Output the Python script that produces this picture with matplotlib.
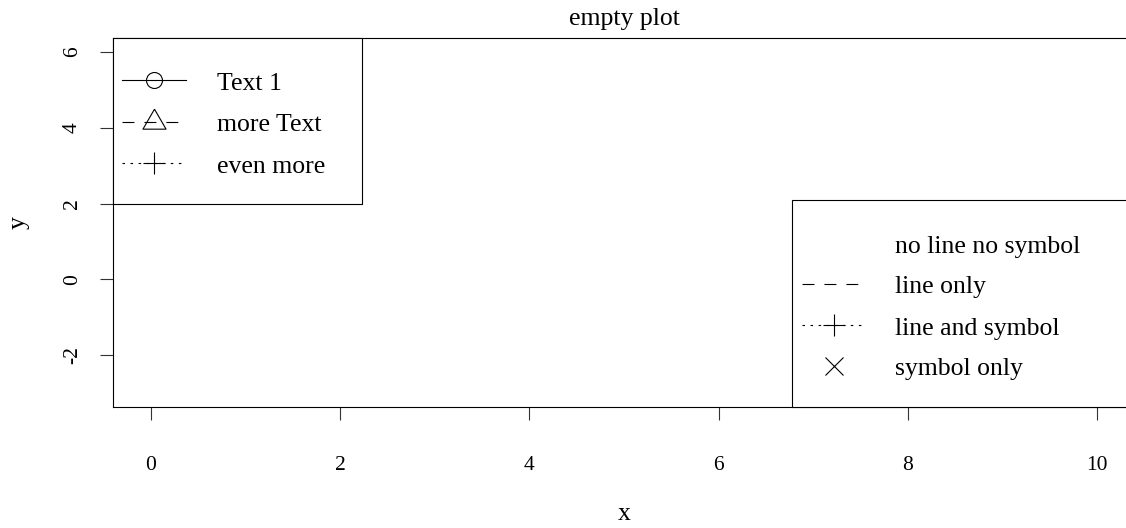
import matplotlib
matplotlib.use("Agg")
import matplotlib.pyplot as plt
from matplotlib.lines import Line2D
from matplotlib.patches import Rectangle

plt.rcParams['font.family'] = ['Liberation Serif', 'DejaVu Serif']
plt.rcParams['lines.scale_dashes'] = False

# ---- data / text ----
title = "empty plot"
x_label = "x"
y_label = "y"
x_lim = (0, 10)
y_lim = (-3, 6)
x_ticks = [0, 2, 4, 6, 8, 10]
y_ticks = [-2, 0, 2, 4, 6]

legend1_labels = ["Text 1", "more Text", "even more"]
legend1_markers = ["o", "tri", "+"]
legend1_styles = ["solid", "dashed", "dotted"]

legend2_labels = ["no line no symbol", "line only", "line and symbol", "symbol only"]
legend2_markers = ["None", "None", "+", "x"]
legend2_styles = ["None", "dashed", "dotted", "None"]

W, H = 1126, 528
fig = plt.figure(figsize=(W / 100, H / 100), dpi=100)
ax_left, ax_right, ax_top, ax_bottom = 113, 1134.8, 38, 407
axw = ax_right - ax_left
axh = ax_bottom - ax_top
ax = fig.add_axes([ax_left / W, 1 - ax_bottom / H, axw / W, axh / H])

# R style 4% extension
dx = (x_lim[1] - x_lim[0]) * 0.04
dy = (y_lim[1] - y_lim[0]) * 0.04
ax.set_xlim(x_lim[0] - dx, x_lim[1] + dx)
ax.set_ylim(y_lim[0] - dy, y_lim[1] + dy)
ax.set_xticks(x_ticks)
ax.set_yticks(y_ticks)
ax.set_xticklabels([str(v) for v in x_ticks])
ax.set_yticklabels([str(v) for v in y_ticks])

for s in ax.spines.values():
    s.set_linewidth(0.8)
    s.set_color("black")
ax.spines['right'].set_visible(False)

ax.tick_params(axis='both', direction='out', length=9.4, width=0.8,
               color='#333333', labelsize=15.5)
ax.tick_params(axis='x', pad=26)
ax.tick_params(axis='y', pad=13)
for lab in ax.get_yticklabels():
    lab.set_rotation(90)
    lab.set_va('center')

ax.set_xlabel(x_label, fontsize=18.5, va='baseline')
ax.xaxis.set_label_coords(0.5, -(520 - ax_bottom) / axh)
ax.set_ylabel(y_label, fontsize=18.5, va='baseline', rotation_mode='anchor')
ax.yaxis.set_label_coords(-(ax_left - 25) / axw, 0.5)

fig.text(624.5 / W, 1 - 25.5 / H, title, ha='center', va='baseline', fontsize=18.5)

# ---- legends (layout in pixel units, converted to axes fraction) ----
def fx(px):
    return (px - ax_left) / axw


def fy(py):
    return (ax_bottom - py) / axh


ls_map = {"solid": "-", "dashed": (0, (8.6, 7.2)), "dotted": (0, (1.8, 4.0)), "None": "None"}
tri = [(0, 1), (-0.866, -0.5), (0.866, -0.5), (0, 1)]
mk_map = {"o": ("o", 11.5), "tri": (tri, 19.2), "+": ("+", 16.5), "x": ("x", 13.0)}
fs = 18.5


def draw_legend(box, rows, line_x, mark_x, text_x, labels, markers, styles):
    x0, y0, x1, y1 = box
    ax.add_patch(Rectangle((fx(x0), fy(y1)), fx(x1) - fx(x0), fy(y0) - fy(y1),
                           transform=ax.transAxes, facecolor='white',
                           edgecolor='black', lw=0.8, clip_on=False, zorder=3))
    for ry, lab, m, s in zip(rows, labels, markers, styles):
        if s != "None":
            ax.add_line(Line2D([fx(line_x[0]), fx(line_x[1])], [fy(ry), fy(ry)],
                               transform=ax.transAxes, color='black', lw=0.8,
                               linestyle=ls_map[s], clip_on=False, zorder=4))
        if m != "None":
            mk, ms = mk_map[m]
            ax.add_line(Line2D([fx(mark_x)], [fy(ry)], transform=ax.transAxes,
                               linestyle='None', marker=mk, markersize=ms,
                               markerfacecolor='none', markeredgecolor='black',
                               markeredgewidth=0.8, clip_on=False, zorder=5))
        ax.text(fx(text_x), fy(ry + 9.5), lab, transform=ax.transAxes,
                fontsize=fs, ha='left', va='baseline', zorder=6)


draw_legend((ax_left, ax_top, 362, 204), [80, 121.7, 163.4], (122, 186), 154,
            217, legend1_labels, legend1_markers, legend1_styles)
draw_legend((792, 200, ax_right, ax_bottom), [243, 284, 325, 366], (802, 866), 834,
            895, legend2_labels, legend2_markers, legend2_styles)

fig.savefig("out.png", dpi=100)
